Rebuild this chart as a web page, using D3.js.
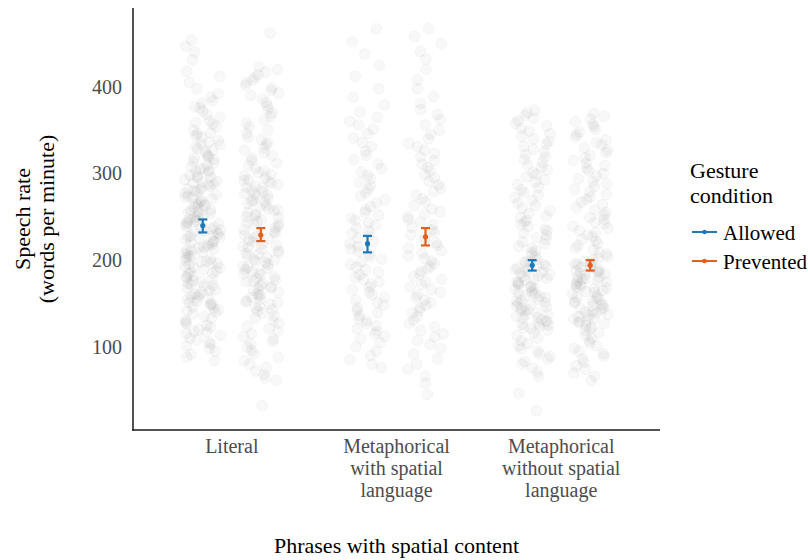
<!DOCTYPE html>
<html>
<head>
<meta charset="utf-8">
<script src="https://cdn.jsdelivr.net/npm/d3@7"></script>
<style>
  html, body { margin: 0; padding: 0; background: #fff; }
  svg { display: block; font-family: "Liberation Serif", "Times New Roman", serif; }
</style>
</head>
<body>
<svg id="chart" width="808" height="560"></svg>
<script>
// Phrase categories (x axis) and gesture conditions (dodged within each category)
const categories = ["Literal", "Metaphorical with spatial language", "Metaphorical without spatial language"];
const categoryLines = [["Literal"], ["Metaphorical", "with spatial", "language"], ["Metaphorical", "without spatial", "language"]];
const conditions = ["Allowed", "Prevented"];
const conditionColors = ["#1f78b8", "#e0601f"];
const yTicks = [100, 200, 300, 400];

// Group means with error bar limits (words per minute)
const meanAllowed = [240, 219, 194];
const lowAllowed = [232, 209, 188];
const highAllowed = [247, 228, 200];
const meanPrevented = [229, 227, 194];
const lowPrevented = [222, 217, 188];
const highPrevented = [237, 237, 200];

// Individual speech-rate observations per category and condition
const literalAllowed = [454,447,440,431,418,412,405,398,392,388,384,381,377,372,368,365,361,357,354,350,347,344,342,376,359,346,
338,336,333,331,329,327,325,322,320,318,316,314,312,310,308,306,305,303,302,301,334,319,
298,296,295,293,291,290,288,287,285,283,282,280,279,277,276,274,272,271,269,268,266,265,263,262,261,297,289,281,273,264,
258,257,255,254,253,251,250,249,247,246,245,243,242,241,239,238,237,235,234,233,231,230,229,227,226,225,224,222,221,220,256,244,236,228,
219,218,216,215,213,212,211,209,208,207,205,204,203,201,200,199,197,196,195,193,192,191,189,188,186,185,184,182,181,180,214,198,
178,176,175,173,171,170,168,166,165,163,161,160,158,156,155,153,151,150,148,146,145,143,141,140,172,157,149,
138,135,133,130,128,125,123,120,118,115,113,110,108,105,103,101,127,117,98,95,91,88,84];

const literalPrevented = [462,423,420,417,414,411,408,405,402,399,396,393,390,386,382,378,374,370,366,362,358,354,350,346,342,
339,336,333,330,327,324,321,318,315,312,309,306,303,301,
299,297,295,293,291,289,287,285,283,281,279,277,275,273,271,269,267,265,263,261,292,284,276,268,
259,257,255,253,251,249,247,245,243,241,239,237,235,233,231,229,227,225,223,221,258,250,242,234,226,
219,217,215,213,211,209,207,205,203,201,199,197,195,193,191,189,187,185,183,181,216,208,200,192,184,
179,177,175,173,171,169,167,165,163,161,159,157,155,153,151,149,147,145,143,141,176,168,160,152,
139,136,133,130,127,124,121,118,115,112,109,106,103,100,96,92,88,84,80,76,72,68,64,61,32];

const withSpatialAllowed = [467,452,438,425,412,398,388,379,371,365,360,356,351,
346,341,336,331,326,321,316,311,306,302,298,294,290,286,282,278,274,270,266,262,
258,255,252,249,246,243,240,237,234,231,228,225,222,219,216,213,210,207,204,201,198,195,192,189,186,183,180,
178,175,172,169,166,163,160,157,154,151,148,145,142,139,136,133,130,127,124,121,118,115,112,109,
105,100,95,90,85,80,76];

const withSpatialPrevented = [467,458,450,441,432,420,408,398,389,381,374,368,362,356,350,345,340,335,
331,327,323,319,315,311,307,303,299,295,291,287,283,279,275,271,267,263,
259,256,253,250,247,244,241,238,235,232,229,226,223,220,217,214,211,208,205,202,199,196,193,190,187,184,181,
178,175,172,169,166,163,160,157,154,151,148,145,142,139,135,131,127,123,119,115,111,107,103,
98,92,86,80,74,66,58,45];

const withoutSpatialAllowed = [373,370,367,364,361,358,355,352,349,346,343,340,
337,334,331,328,325,322,319,316,313,310,307,304,301,
299,296,293,290,287,284,281,278,275,272,269,266,263,260,257,254,251,
249,246,244,241,239,236,234,231,229,226,224,221,219,216,214,211,209,206,204,201,
199,197,195,193,191,189,187,185,183,181,179,177,175,173,171,169,167,165,163,161,
198,194,190,186,182,178,174,170,166,162,
159,157,155,153,151,149,147,145,143,141,139,137,135,133,131,129,127,125,123,121,
158,154,150,146,142,138,134,130,126,122,
119,116,113,110,107,104,101,98,95,92,89,86,83,80,76,71,66,46,26];

const withoutSpatialPrevented = [369,366,363,360,357,354,351,348,345,342,339,
336,333,330,327,324,321,318,315,312,309,306,303,300,
297,294,291,288,285,282,279,276,273,270,267,264,261,258,255,252,
249,247,244,242,239,237,234,232,229,227,224,222,219,217,214,212,209,207,204,202,
199,197,195,193,191,189,187,185,183,181,179,177,175,173,171,169,167,165,163,161,
196,192,188,184,180,176,172,168,164,200,186,178,170,
159,157,155,153,151,149,147,145,143,141,139,137,135,133,131,129,127,125,123,121,
156,152,148,144,140,136,132,128,
119,116,113,110,107,104,101,98,95,92,89,86,82,78,74,70,66,61];

const pointSets = [
  [literalAllowed, literalPrevented],
  [withSpatialAllowed, withSpatialPrevented],
  [withoutSpatialAllowed, withoutSpatialPrevented]
];

const svg = d3.select("#chart");
const panel = { left: 133, right: 660, top: 8, bottom: 430 };

const x = d3.scalePoint().domain(categories).range([panel.left, panel.right]).padding(0.6);
const dodge = d3.scalePoint().domain(conditions).range([-29, 29]);
const y = d3.scaleLinear().domain([4, 491]).range([panel.bottom, panel.top]);
const color = d3.scaleOrdinal().domain(conditions).range(conditionColors);

// Flatten observations; horizontal spread from a deterministic scrambled sequence
const jitter = 18;
const points = [];
categories.forEach((cat, ci) => {
  conditions.forEach((cond, k) => {
    pointSets[ci][k].forEach((v, i) => {
      const s = Math.sin((i + 1) * 78.233 + ci * 12.9898 + k * 4.1414) * 43758.5453;
      const u = s - Math.floor(s);
      points.push({ cat, cond, v, dx: (u - 0.5) * 2 * jitter });
    });
  });
});

// Soft edge on the jittered observations
const defs = svg.append("defs");
defs.append("filter").attr("id", "soft")
  .attr("x", "-5%").attr("y", "-5%").attr("width", "110%").attr("height", "110%")
  .append("feGaussianBlur").attr("stdDeviation", 0.7);

svg.append("g")
  .attr("filter", "url(#soft)")
  .selectAll("circle")
  .data(points)
  .join("circle")
  .attr("cx", d => x(d.cat) + dodge(d.cond) + d.dx)
  .attr("cy", d => y(d.v))
  .attr("r", 5.4)
  .attr("fill", "#3c3c3c")
  .attr("fill-opacity", 0.045)
  .attr("stroke", "#3c3c3c")
  .attr("stroke-opacity", 0.035)
  .attr("stroke-width", 0.8);

// Means with error bars
const summary = [];
categories.forEach((cat, ci) => {
  summary.push({ cat, cond: "Allowed", mean: meanAllowed[ci], lo: lowAllowed[ci], hi: highAllowed[ci] });
  summary.push({ cat, cond: "Prevented", mean: meanPrevented[ci], lo: lowPrevented[ci], hi: highPrevented[ci] });
});

const bars = svg.append("g").selectAll("g").data(summary).join("g")
  .attr("stroke", d => color(d.cond))
  .attr("fill", d => color(d.cond));
const cap = 4.5;
bars.append("line")
  .attr("x1", d => x(d.cat) + dodge(d.cond)).attr("x2", d => x(d.cat) + dodge(d.cond))
  .attr("y1", d => y(d.lo)).attr("y2", d => y(d.hi))
  .attr("stroke-width", 2.2);
bars.append("line")
  .attr("x1", d => x(d.cat) + dodge(d.cond) - cap).attr("x2", d => x(d.cat) + dodge(d.cond) + cap)
  .attr("y1", d => y(d.hi)).attr("y2", d => y(d.hi))
  .attr("stroke-width", 2.2);
bars.append("line")
  .attr("x1", d => x(d.cat) + dodge(d.cond) - cap).attr("x2", d => x(d.cat) + dodge(d.cond) + cap)
  .attr("y1", d => y(d.lo)).attr("y2", d => y(d.lo))
  .attr("stroke-width", 2.2);
bars.append("circle")
  .attr("cx", d => x(d.cat) + dodge(d.cond))
  .attr("cy", d => y(d.mean))
  .attr("r", 2.6)
  .attr("stroke", "none");

// Y axis
const yAxis = svg.append("g")
  .attr("transform", `translate(${panel.left},0)`)
  .call(d3.axisLeft(y).tickValues(yTicks).tickSize(0).tickPadding(11));
yAxis.select(".domain").remove();
yAxis.selectAll("text")
  .attr("font-family", "Liberation Serif, Times New Roman, serif")
  .attr("font-size", 20)
  .attr("fill", "#4d4d4d");

// Axis lines
svg.append("line")
  .attr("x1", panel.left).attr("x2", panel.left)
  .attr("y1", panel.top).attr("y2", panel.bottom + 0.75)
  .attr("stroke", "#1a1a1a").attr("stroke-width", 1.5);
svg.append("line")
  .attr("x1", panel.left - 0.75).attr("x2", panel.right)
  .attr("y1", panel.bottom).attr("y2", panel.bottom)
  .attr("stroke", "#1a1a1a").attr("stroke-width", 1.5);

// Category labels
const catLabels = svg.append("g").selectAll("text")
  .data(categories)
  .join("text")
  .attr("text-anchor", "middle")
  .attr("font-size", 20)
  .attr("fill", "#4d4d4d")
  .attr("transform", d => `translate(${x(d)},453)`);
catLabels.selectAll("tspan")
  .data((d, i) => categoryLines[i])
  .join("tspan")
  .attr("x", 0)
  .attr("y", (d, i) => i * 22)
  .text(d => d);

// Axis titles
svg.append("text")
  .attr("x", (panel.left + panel.right) / 2)
  .attr("y", 553)
  .attr("text-anchor", "middle")
  .attr("font-size", 22)
  .attr("fill", "#000")
  .text("Phrases with spatial content");

const yTitle = svg.append("text")
  .attr("transform", `translate(0,${(panel.top + panel.bottom) / 2}) rotate(-90)`)
  .attr("text-anchor", "middle")
  .attr("font-size", 22)
  .attr("fill", "#000");
yTitle.append("tspan").attr("x", 0).attr("y", 30).text("Speech rate");
yTitle.append("tspan").attr("x", 0).attr("y", 54).text("(words per minute)");

// Legend
const legend = svg.append("g").attr("transform", "translate(690,0)");
legend.append("text").attr("x", 0).attr("y", 178).attr("font-size", 22).attr("fill", "#000").text("Gesture");
legend.append("text").attr("x", 0).attr("y", 203).attr("font-size", 22).attr("fill", "#000").text("condition");
const items = legend.selectAll("g.item").data(conditions).join("g")
  .attr("class", "item")
  .attr("transform", (d, i) => `translate(0,${232 + i * 29})`);
items.append("line")
  .attr("x1", 2).attr("x2", 27).attr("y1", 0).attr("y2", 0)
  .attr("stroke", d => color(d)).attr("stroke-width", 2);
items.append("circle")
  .attr("cx", 14.5).attr("cy", 0).attr("r", 2.3)
  .attr("fill", d => color(d));
items.append("text")
  .attr("x", 33).attr("y", 7.5)
  .attr("font-size", 21)
  .attr("fill", "#000")
  .text(d => d);
</script>
</body>
</html>
